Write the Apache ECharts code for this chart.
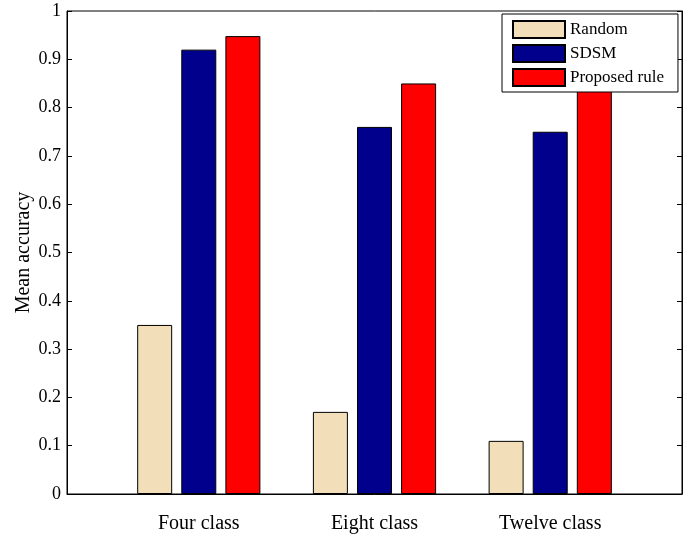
<!DOCTYPE html>
<html>
<head>
<meta charset="utf-8">
<script src="https://cdn.jsdelivr.net/npm/echarts@6/dist/echarts.min.js"></script>
<style>html,body{margin:0;padding:0;background:#fff}#c{width:686px;height:537px}</style>
</head>
<body>
<div id="c"></div>
<script>
const categories = ['Four class', 'Eight class', 'Twelve class'];
const seriesNames = ['Random', 'SDSM', 'Proposed rule'];
const randomVals = [0.35, 0.17, 0.11];
const sdsmVals = [0.92, 0.76, 0.75];
const proposedVals = [0.948, 0.85, 0.84];
const yTickLabels = ['0', '0.1', '0.2', '0.3', '0.4', '0.5', '0.6', '0.7', '0.8', '0.9', '1'];
const colors = ['#F3DEBA', '#00008C', '#FF0000'];

const font = 'Liberation Serif';
const positions = categories.map((c, i) => i + 1);
function mk(name, vals, color) {
  return {
    name: name, type: 'bar',
    data: vals.map((v, i) => [positions[i], v]),
    barWidth: 35, barGap: '26%',
    itemStyle: { color: color, borderColor: '#000', borderWidth: 1 },
    xAxisIndex: 0, yAxisIndex: 0
  };
}
const chart = echarts.init(document.getElementById('c'), null, { renderer: 'canvas' });
chart.setOption({
  animation: false,
  backgroundColor: '#fff',
  grid: { left: 67, right: 4, top: 11, bottom: 43, show: true, borderColor: '#000', borderWidth: 1, backgroundColor: 'transparent' },
  legend: {
    data: seriesNames,
    orient: 'vertical', left: 502, top: 14,
    itemWidth: 52, itemHeight: 17, itemGap: 5,
    padding: [6, 14, 5, 10],
    backgroundColor: '#fff', borderColor: '#000', borderWidth: 1,
    textStyle: { fontFamily: font, fontSize: 17, color: '#000' },
    icon: 'rect'
  },
  xAxis: {
    type: 'value', min: 0.25, max: 3.75,
    splitLine: { show: false },
    axisLine: { show: true, lineStyle: { color: '#000', width: 1 } },
    axisTick: { show: false },
    axisLabel: {
      customValues: positions,
      formatter: v => categories[Math.round(v) - 1] || '',
      fontFamily: font, fontSize: 20, color: '#000', margin: 20
    }
  },
  yAxis: [{
    type: 'value', min: 0, max: 1, interval: 0.1,
    name: 'Mean accuracy', nameLocation: 'middle', nameGap: 33,
    nameMoveOverlap: false,
    nameTextStyle: { fontFamily: font, fontSize: 20, color: '#000' },
    splitLine: { show: false },
    axisLine: { show: true, lineStyle: { color: '#000', width: 1 } },
    axisTick: { show: true, inside: true, length: 5, lineStyle: { color: '#000' } },
    axisLabel: {
      formatter: v => yTickLabels[Math.round(v * 10)],
      fontFamily: font, fontSize: 18, color: '#000', margin: 6
    }
  }, {
    type: 'value', min: 0, max: 1, interval: 0.1, position: 'right',
    splitLine: { show: false },
    axisLine: { show: true, lineStyle: { color: '#000', width: 1 } },
    axisTick: { show: true, inside: true, length: 5, lineStyle: { color: '#000' } },
    axisLabel: { show: false }
  }],
  series: [
    mk(seriesNames[0], randomVals, colors[0]),
    mk(seriesNames[1], sdsmVals, colors[1]),
    mk(seriesNames[2], proposedVals, colors[2])
  ]
});
</script>
</body>
</html>
